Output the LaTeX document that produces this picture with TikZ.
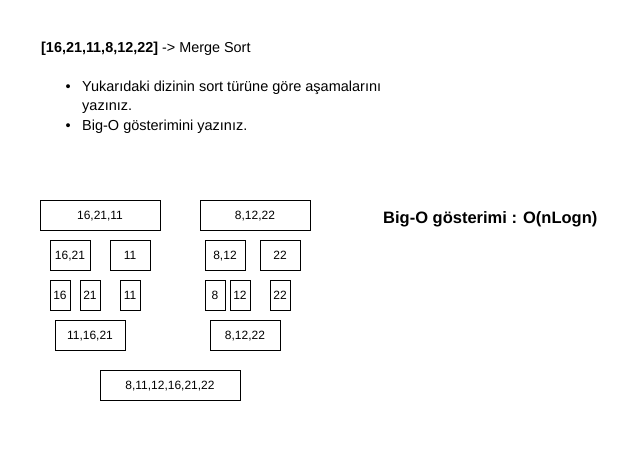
\documentclass[tikz,border=0pt]{standalone}
\usepackage{fontspec}
\setmainfont{Liberation Sans}
\begin{document}
\begin{tikzpicture}[x=1pt,y=-1pt,
  box/.style={draw, line width=0.9pt, inner sep=0pt, text height=8.6pt, text depth=0pt, font=\fontsize{12}{14}\selectfont},
  txt/.style={anchor=base west, inner sep=0pt, font=\fontsize{14.5}{18}\selectfont}]
\useasboundingbox (0,0) rectangle (630,456);
\node[anchor=west, inner sep=0pt, font=\fontsize{14.4}{17}\selectfont] (title) at (41,49) {\textbf{[16,21,11,8,12,22]} -> Merge Sort};
\node[txt] (b1) at (65.5,91) {\textbullet};
\node[txt] (l1) at (82,91) {Yukarıdaki dizinin sort türüne göre aşamalarını};
\node[txt] (l2) at (82,110) {yazınız.};
\node[txt] (b2) at (65.5,130.5) {\textbullet};
\node[txt] (l3) at (82,130.5) {Big-O gösterimini yazınız.};
\node[anchor=west, inner sep=0pt, font=\fontsize{16.5}{19}\selectfont\bfseries] (bigo) at (383,219) {Big-O gösterimi : O(nLogn)};
% level 1
\node[box, minimum width=120, minimum height=30] (a) at (100,215) {16,21,11};
\node[box, minimum width=110, minimum height=30] (b) at (255,215) {8,12,22};
% level 2
\node[box, minimum width=40, minimum height=30] (a1) at (70,255) {16,21};
\node[box, minimum width=40, minimum height=30] (a2) at (130,255) {11};
\node[box, minimum width=40, minimum height=30] (b1x) at (225,255) {8,12};
\node[box, minimum width=40, minimum height=30] (b2x) at (280,255) {22};
% level 3
\node[box, minimum width=20, minimum height=30] (c1) at (60,295) {16};
\node[box, minimum width=20, minimum height=30] (c2) at (90,295) {21};
\node[box, minimum width=20, minimum height=30] (c3) at (130,295) {11};
\node[box, minimum width=20, minimum height=30] (d1) at (215,295) {8};
\node[box, minimum width=20, minimum height=30] (d2) at (240,295) {12};
\node[box, minimum width=20, minimum height=30] (d3) at (280,295) {22};
% merged
\node[box, minimum width=70, minimum height=30] (m1) at (90,335) {11,16,21};
\node[box, minimum width=70, minimum height=30] (m2) at (245,335) {8,12,22};
\node[box, minimum width=140, minimum height=30] (m) at (170,385) {8,11,12,16,21,22};
\end{tikzpicture}
\end{document}
